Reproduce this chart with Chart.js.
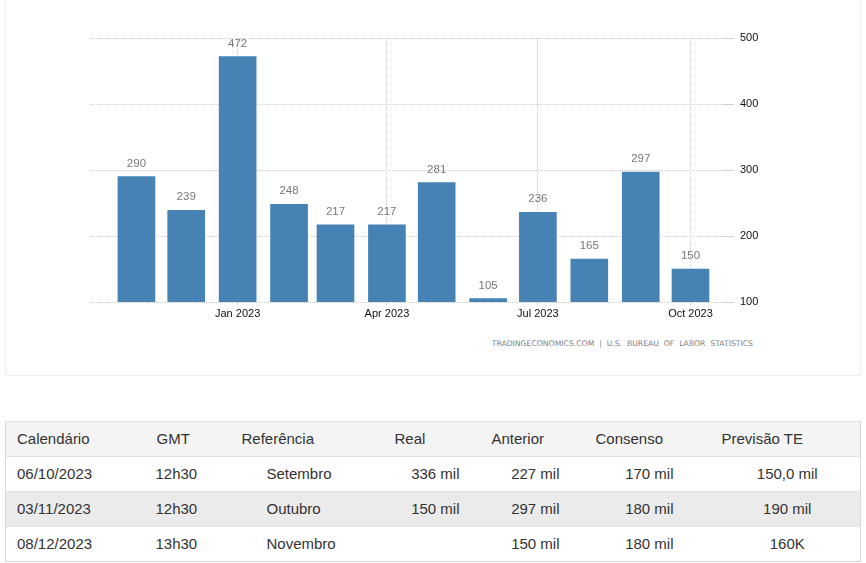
<!DOCTYPE html>
<html>
<head>
<meta charset="utf-8">
<script src="https://cdn.jsdelivr.net/npm/chart.js@4.4.0/dist/chart.umd.min.js"></script>
<style>
    html, body { margin: 0; padding: 0; background: #fff; }
    body { width: 866px; height: 563px; position: relative; overflow: hidden; font-family: "Liberation Sans", Arial, sans-serif; }
    .chart-box { position: absolute; left: 5px; top: -10px; width: 854px; height: 384px; border: 1px solid #eee; }
    #chartWrap { position: absolute; left: 0; top: 0; width: 866px; height: 330px; }
    .source { position: absolute; right: 113px; top: 339px; font-family: "DejaVu Sans", sans-serif; font-size: 7.7px; color: #808080; white-space: pre; }
    table.cal { position: absolute; left: 5px; top: 421px; width: 856px; border-collapse: collapse; table-layout: fixed; font-size: 15px; color: #333; border: 1px solid #d6d6d6; }
    table.cal td, table.cal th { height: 33px; padding: 0; padding-bottom: 1px; font-weight: normal; border-top: 1px solid #e2e2e2; white-space: nowrap; }
    table.cal thead th { background: #f4f4f4; text-align: left; padding-left: 11px; }
    table.cal tbody tr:nth-child(2) td { background: #ebebeb; }
</style>
</head>
<body>
<div class="chart-box"></div>
<div id="chartWrap"><canvas id="payrollChart" width="866" height="330"></canvas></div>
<div class="source">TRADINGECONOMICS.COM  |  U.S.  BUREAU  OF  LABOR  STATISTICS</div>
<table class="cal" id="calTable">
    <colgroup>
        <col style="width:140px"><col style="width:85px"><col style="width:153px"><col style="width:97px"><col style="width:104px"><col style="width:126px"><col style="width:150px">
    </colgroup>
    <thead><tr></tr></thead>
    <tbody></tbody>
</table>
<script>
// chart data
const months = ['2022-11-01', '2022-12-01', '2023-01-01', '2023-02-01', '2023-03-01', '2023-04-01',
    '2023-05-01', '2023-06-01', '2023-07-01', '2023-08-01', '2023-09-01', '2023-10-01'];
const payrolls = [290, 239, 472, 248, 217, 217, 281, 105, 236, 165, 297, 150];
const xTickDates = ['2023-01-01', '2023-04-01', '2023-07-01', '2023-10-01'];
const xTickLabels = ['Jan 2023', 'Apr 2023', 'Jul 2023', 'Oct 2023'];
const yTicks = [100, 200, 300, 400, 500];
const xRange = ['2022-10-04', '2023-10-20'];

// calendar table
const calHeaders = ['Calendário', 'GMT', 'Referência', 'Real', 'Anterior', 'Consenso', 'Previsão TE'];
const calDates = ['06/10/2023', '03/11/2023', '08/12/2023'];
const calTimes = ['12h30', '12h30', '13h30'];
const calRefs = ['Setembro', 'Outubro', 'Novembro'];
const calActual = ['336 mil', '150 mil', ''];
const calPrevious = ['227 mil', '297 mil', '150 mil'];
const calConsensus = ['170 mil', '180 mil', '180 mil'];
const calForecast = ['150,0 mil', '190 mil', '160K'];

const dayNum = (s) => {
    const [y, m, d] = s.split('-').map(Number);
    return Date.UTC(y, m - 1, d) / 864e5;
};

const tickFont = { family: '"Liberation Sans", Arial, sans-serif', size: 11 };

const valueLabels = {
    id: 'valueLabels',
    afterDatasetsDraw(chart) {
        const ctx = chart.ctx;
        const meta = chart.getDatasetMeta(0);
        ctx.save();
        ctx.font = '11.5px "Liberation Sans", Arial, sans-serif';
        ctx.fillStyle = '#777';
        ctx.textAlign = 'center';
        ctx.textBaseline = 'middle';
        meta.data.forEach((bar, i) => {
            ctx.fillText(String(payrolls[i]), bar.x, bar.y - 13);
        });
        ctx.restore();
    }
};

new Chart(document.getElementById('payrollChart'), {
    type: 'bar',
    data: {
        datasets: [{
            data: months.map((m, i) => ({ x: dayNum(m), y: payrolls[i] })),
            backgroundColor: '#4682b4',
            barThickness: 37,
        }],
    },
    options: {
        responsive: false,
        animation: false,
        layout: { padding: { left: 90, top: 38, right: 0, bottom: 0 } },
        plugins: { legend: { display: false }, tooltip: { enabled: false } },
        scales: {
            x: {
                type: 'linear',
                offset: false,
                min: dayNum(xRange[0]),
                max: dayNum(xRange[1]),
                afterBuildTicks: (scale) => { scale.ticks = xTickDates.map((d) => ({ value: dayNum(d) })); },
                afterFit: (scale) => { scale.height = 28; },
                grid: { offset: false, color: '#cfcfcf', tickLength: 3 },
                border: { display: false, dash: [1, 1] },
                ticks: {
                    autoSkip: false,
                    maxRotation: 0,
                    padding: 2,
                    color: '#111',
                    font: tickFont,
                    callback: (v) => xTickLabels[xTickDates.map(dayNum).indexOf(v)] ?? '',
                },
            },
            y: {
                position: 'right',
                min: yTicks[0],
                max: yTicks[yTicks.length - 1],
                afterBuildTicks: (scale) => { scale.ticks = yTicks.map((v) => ({ value: v })); },
                afterFit: (scale) => { scale.width = 144; },
                grid: { color: '#cfcfcf', tickLength: 12 },
                border: { display: false, dash: [1, 1] },
                ticks: { padding: 6, color: '#111', font: tickFont },
            },
        },
    },
    plugins: [valueLabels],
});

const headRow = document.querySelector('#calTable thead tr');
calHeaders.forEach((h) => {
    const th = document.createElement('th');
    th.textContent = h;
    headRow.appendChild(th);
});

// per column: [align, padding]
const colStyle = [
    ['left', 'padding-left:11px'],
    ['left', 'padding-left:10px'],
    ['left', 'padding-left:36px'],
    ['right', 'padding-right:21px'],
    ['right', 'padding-right:25px'],
    ['right', 'padding-right:37px'],
    ['center', 'padding-left:4px'],
];
const body = document.querySelector('#calTable tbody');
calDates.forEach((d, i) => {
    const cells = [d, calTimes[i], calRefs[i], calActual[i], calPrevious[i], calConsensus[i], calForecast[i]];
    const tr = document.createElement('tr');
    cells.forEach((c, j) => {
        const td = document.createElement('td');
        td.style.cssText = `text-align:${colStyle[j][0]};${colStyle[j][1]}`;
        td.textContent = c;
        tr.appendChild(td);
    });
    body.appendChild(tr);
});
</script>
</body>
</html>
